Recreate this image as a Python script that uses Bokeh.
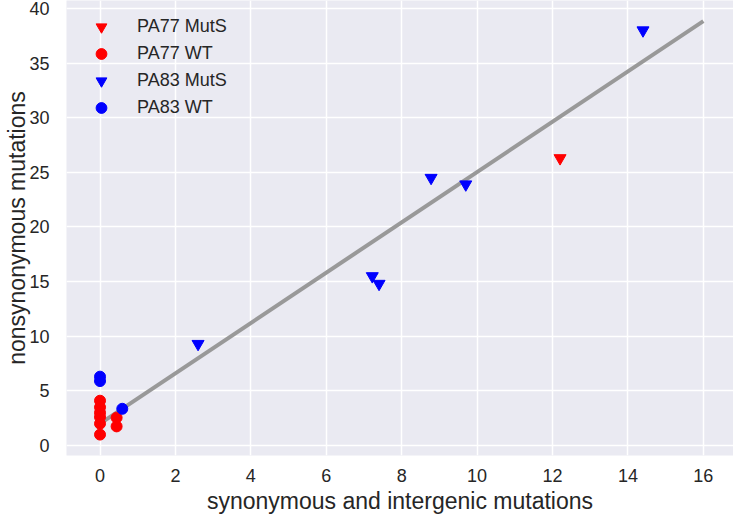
from bokeh.plotting import figure
from bokeh.models import Range1d, FixedTicker, Legend, LegendItem
from bokeh.embed import file_html
from bokeh.resources import INLINE

# data
pa77_muts_x = [12.2]
pa77_muts_y = [26.3]
pa77_wt_x = [0, 0, 0, 0, 0, 0, 0.44, 0.44]
pa77_wt_y = [1.0, 2.0, 2.6, 3.0, 3.5, 4.1, 1.75, 2.55]
pa83_muts_x = [14.4, 2.6, 7.22, 7.4, 8.78, 9.7]
pa83_muts_y = [38.0, 9.3, 15.5, 14.8, 24.5, 23.9]
pa83_wt_x = [0, 0, 0.59]
pa83_wt_y = [5.9, 6.3, 3.36]
fit_x = [0, 16]
fit_y = [2.0, 38.85]

x_ticks = [0, 2, 4, 6, 8, 10, 12, 14, 16]
y_ticks = [0, 5, 10, 15, 20, 25, 30, 35, 40]
x_label = "synonymous and intergenic mutations"
y_label = "nonsynonymous mutations"

FONT = "Liberation Sans"

p = figure(width=733, height=518, output_backend="svg", toolbar_location=None,
           x_range=Range1d(-0.889, 16.80), y_range=Range1d(-0.915, 40.73),
           min_border_left=66, min_border_right=0, min_border_top=0, min_border_bottom=63)

p.background_fill_color = "#EAEAF2"
p.border_fill_color = "white"
p.outline_line_color = None
for ax in (p.xaxis, p.yaxis):
    ax.axis_line_color = None
    ax.major_tick_line_color = None
    ax.minor_tick_line_color = None
    ax.major_label_text_font = FONT
    ax.major_label_text_font_size = "18px"
    ax.major_label_text_color = "#262626"
    ax.axis_label_text_font = FONT
    ax.axis_label_text_font_size = "23px"
    ax.axis_label_text_font_style = "normal"
    ax.axis_label_text_color = "#262626"
p.xaxis.ticker = FixedTicker(ticks=x_ticks)
p.yaxis.ticker = FixedTicker(ticks=y_ticks)
p.xaxis.axis_label = x_label
p.yaxis.axis_label = y_label
p.xaxis.major_label_standoff = 7
p.yaxis.major_label_standoff = 11
p.xaxis.axis_label_standoff = 3
p.yaxis.axis_label_standoff = -4
p.grid.grid_line_color = "white"
p.grid.grid_line_width = 1.5

p.line(fit_x, fit_y, line_color="#999999", line_width=4)

r1 = p.scatter(pa77_muts_x, pa77_muts_y, marker="inverted_triangle", size=12, color="red")
r2 = p.scatter(pa77_wt_x, pa77_wt_y, marker="circle", size=11, color="red")
r3 = p.scatter(pa83_muts_x, pa83_muts_y, marker="inverted_triangle", size=12, color="blue")
r4 = p.scatter(pa83_wt_x, pa83_wt_y, marker="circle", size=11, color="blue")

legend = Legend(items=[
    LegendItem(label="PA77 MutS", renderers=[r1]),
    LegendItem(label="PA77 WT", renderers=[r2]),
    LegendItem(label="PA83 MutS", renderers=[r3]),
    LegendItem(label="PA83 WT", renderers=[r4]),
], location="top_left")
legend.background_fill_alpha = 0
legend.border_line_color = None
legend.label_text_font = FONT
legend.label_text_font_size = "18px"
legend.label_text_color = "#262626"
legend.glyph_width = 44
legend.glyph_height = 27
legend.label_height = 27
legend.label_standoff = 14
legend.spacing = 0
legend.margin = 13
legend.padding = 0
p.add_layout(legend)

open("out.html", "w").write(file_html(p, INLINE))
